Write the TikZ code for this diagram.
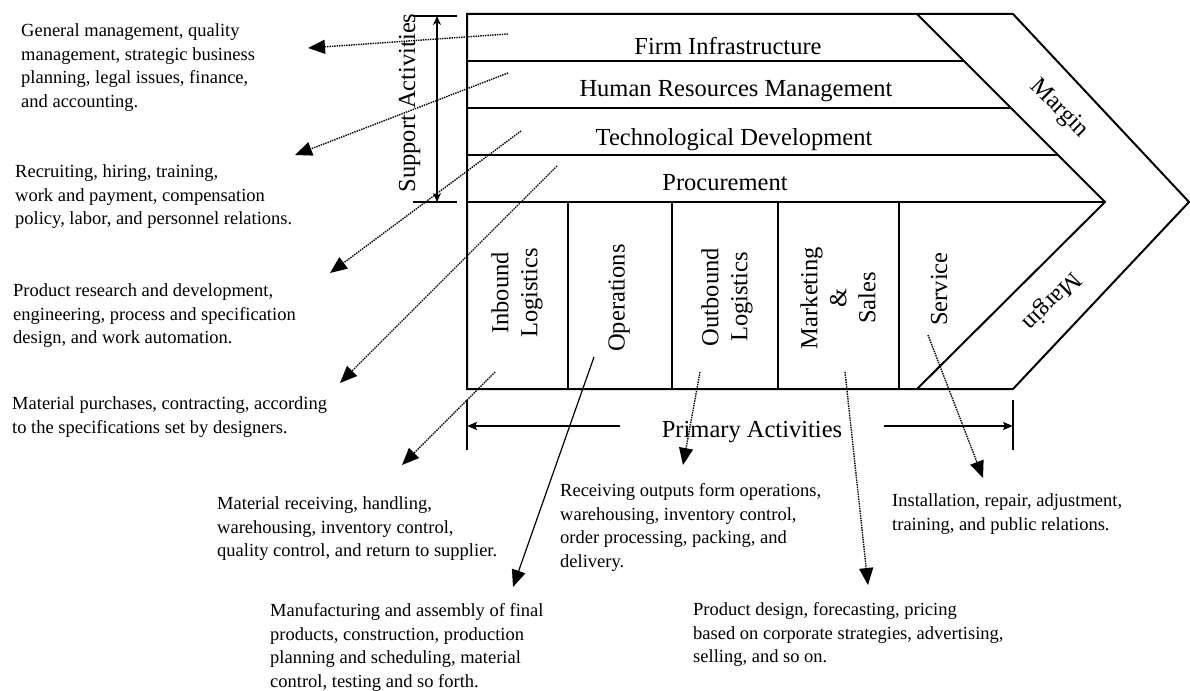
\documentclass[tikz,border=0pt]{standalone}
\usepackage{fontspec}
\setmainfont{Liberation Serif}
\usetikzlibrary{arrows.meta}

\tikzset{
  frame/.style={line width=2pt},
  activity/.style={font=\fontsize{24.5}{29}\selectfont, inner sep=0pt, align=center},
  note/.style={font=\fontsize{18.5}{23.6}\selectfont, inner sep=0pt, align=left, anchor=north west},
  pointer/.style={line width=1.4pt, densely dotted, -{Triangle[length=17pt,width=14pt]}},
  solidpointer/.style={line width=1.2pt, -{Triangle[length=17pt,width=14pt]}},
  span/.style={line width=2pt},
}

\begin{document}
\begin{tikzpicture}[x=1pt, y=-1pt]
        \useasboundingbox (0,0) rectangle (1190,690);

        % the chain
        \draw[frame] (467,14) -- (1013,14) -- (1189,202) -- (1013,389) -- (467,389) -- cycle;
        \draw[frame] (917,14) -- (1105,202) -- (917,389);
        \draw[frame] (467,202) -- (1105,202);
        \foreach \y/\x in {61/964, 108/1011, 155/1058}
            \draw[frame] (467,\y) -- (\x,\y);
        \foreach \x in {568, 672, 778, 899}
            \draw[frame] (\x,202) -- (\x,389);

        % support activities
        \node[activity, rotate=90, anchor=base] (sup) at (415,103) {Support Activities};
        \coordinate (sup-t) at (437,16);
        \coordinate (sup-b) at (437,202);
        \draw[span] (413,16) -- (457,16);
        \draw[span] (413,202) -- (457,202);
        \draw[span, {Stealth[length=9pt,width=8pt]}-{Stealth[length=9pt,width=8pt]}] (sup-t) -- (sup-b);

        % rows
        \node[activity, anchor=base] (fi) at (728,55) {Firm Infrastructure};
        \node[activity, anchor=base] (hr) at (736,97) {Human Resources Management};
        \node[activity, anchor=base] (td) at (734,145) {Technological Development};
        \node[activity, anchor=base] (pr) at (725,190) {Procurement};

        % columns
        \node[activity, rotate=90] (il) at (517,293) {Inbound\\Logistics};
        \node[activity, rotate=90] (op) at (619,298) {Operations};
        \node[activity, rotate=90] (ol) at (727,297) {Outbound\\Logistics};
        \node[activity, rotate=90] (ms) at (838,298) {Marketing\\\&\\Sales};
        \node[activity, rotate=90] (sv) at (939,289) {Service};

        % margin
        \node[activity, rotate=-45] (m1) at (1059,109) {Margin};
        \node[activity, rotate=225] (m2) at (1051,301) {Margin};

        % primary activities
        \node[activity, anchor=base] (pa) at (752,437) {Primary Activities};
        \coordinate (pa-l) at (620,426);
        \coordinate (pa-lt) at (467,426);
        \coordinate (pa-r) at (884,426);
        \coordinate (pa-rt) at (1013,426);
        \draw[span] (467,400) -- (467,450);
        \draw[span] (1013,400) -- (1013,450);
        \draw[span, -{Stealth[length=10pt,width=8pt,inset=2pt]}] (pa-l) -- (pa-lt);
        \draw[span, -{Stealth[length=10pt,width=8pt,inset=2pt]}] (pa-r) -- (pa-rt);

        % notes
        \node[note] (n-fi) at (21,23.4) {General management, quality\\management, strategic business\\planning, legal issues, finance,\\and accounting.};
        \node[note] (n-hr) at (15,164.4) {Recruiting, hiring, training,\\work and payment, compensation\\policy, labor, and personnel relations.};
        \node[note] (n-td) at (13,283.4) {Product research and development,\\engineering, process and specification\\design, and work automation.};
        \node[note] (n-pr) at (12,396.4) {Material purchases, contracting, according\\to the specifications set by designers.};
        \node[note] (n-il) at (217,496.4) {Material receiving, handling,\\warehousing, inventory control,\\quality control, and return to supplier.};
        \node[note] (n-op) at (270,603.4) {Manufacturing and assembly of final\\products, construction, production\\planning and scheduling, material\\control, testing and so forth.};
        \node[note] (n-ol) at (560,483.4) {Receiving outputs form operations,\\warehousing, inventory control,\\order processing, packing, and\\delivery.};
        \node[note] (n-ms) at (693,602.4) {Product design, forecasting, pricing\\based on corporate strategies, advertising,\\selling, and so on.};
        \node[note] (n-sv) at (892,493.4) {Installation, repair, adjustment,\\training, and public relations.};

        % pointers
        \coordinate (fi-s) at (508,34);   \coordinate (fi-e) at (308,48);
        \coordinate (hr-s) at (508,73);   \coordinate (hr-e) at (295,155);
        \coordinate (td-s) at (521,131);  \coordinate (td-e) at (330,273);
        \coordinate (pr-s) at (557,166);  \coordinate (pr-e) at (340,383);
        \coordinate (il-s) at (495,372);  \coordinate (il-e) at (402,465);
        \coordinate (op-s) at (594,357);  \coordinate (op-e) at (513,587);
        \coordinate (ol-s) at (700,372);  \coordinate (ol-e) at (683,465);
        \coordinate (ms-s) at (845,372);  \coordinate (ms-e) at (868,585);
        \coordinate (sv-s) at (928,335);  \coordinate (sv-e) at (983,478);
        \foreach \a in {fi, hr, td, pr, il, ol, ms, sv}
            \draw[pointer] (\a-s) -- (\a-e);
        \draw[solidpointer] (op-s) -- (op-e);

    \end{tikzpicture}
\end{document}
